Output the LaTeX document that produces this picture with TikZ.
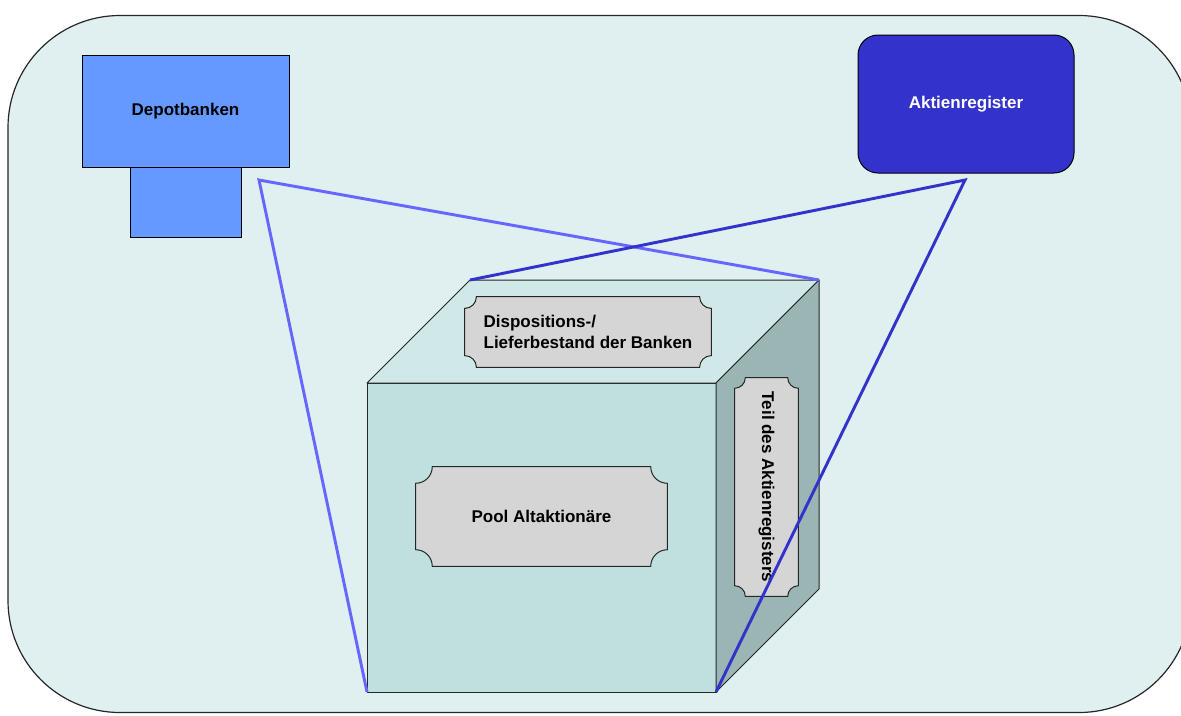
\documentclass[tikz,border=0pt]{standalone}
\usepackage{fontspec}
\setmainfont{Liberation Sans}
\usepackage{graphicx}
\usetikzlibrary{calc}
\pgfdeclarelayer{back}
\pgfdeclarelayer{plaques}
\pgfdeclarelayer{front}
\pgfsetlayers{back,plaques,main,front}
\definecolor{framefill}{RGB}{224,240,240}
\definecolor{depotblue}{RGB}{102,153,255}
\definecolor{aktienblue}{RGB}{51,51,204}
\definecolor{frontface}{RGB}{192,224,224}
\definecolor{topface}{RGB}{208,232,232}
\definecolor{sideface}{RGB}{154,182,180}
\definecolor{plaquegray}{RGB}{213,213,213}
\definecolor{lightline}{RGB}{102,102,255}
\definecolor{darkline}{RGB}{51,51,204}
\tikzset{
  lbl/.style={font=\bfseries\fontsize{12.75}{15.75}\selectfont},
  bankbox/.style={draw=black, line width=0.75pt, fill=depotblue, inner sep=0pt},
  regbox/.style={draw=black, line width=0.75pt, fill=aktienblue, rounded corners=15pt, inner sep=0pt, text=white},
  face/.style={draw=black!85, line width=0.75pt, line join=round},
  plaquetext/.style={lbl, inner sep=0pt, draw=none},
  plaqueshape/.style={draw=black!85, line width=0.75pt, fill=plaquegray},
  lightconn/.style={draw=lightline, line width=2.2pt, line join=miter},
  darkconn/.style={draw=darkline, line width=2.2pt, line join=miter}
}
\newcommand\plaquepath[2]{%
  \path[plaqueshape] ($(#1.north west)+(#2,0pt)$) -- ($(#1.north east)+(-#2,0pt)$)
    arc[start angle=180,end angle=270,radius=#2]
    -- ($(#1.south east)+(0pt,#2)$)
    arc[start angle=90,end angle=180,radius=#2]
    -- ($(#1.south west)+(#2,0pt)$)
    arc[start angle=0,end angle=90,radius=#2]
    -- ($(#1.north west)+(0pt,-#2)$)
    arc[start angle=270,end angle=360,radius=#2] -- cycle;}
\begin{document}
\begin{tikzpicture}[x=0.75pt,y=-0.75pt]
\useasboundingbox (0,0) rectangle (1181,715);
% cube corners
\coordinate (A) at (367,383);
\coordinate (B) at (716,383);
\coordinate (C) at (716,692);
\coordinate (D) at (367,692);
\coordinate (E) at (470,280);
\coordinate (F) at (819,280);
\coordinate (G) at (819,589);
\coordinate (dapex) at (259,180);
\coordinate (aapex) at (965,180);
\begin{pgfonlayer}{back}
  \begin{scope}
    \clip (0,0) rectangle (1181,715);
    \draw[fill=framefill, draw=black!85, line width=0.9pt, rounded corners=84pt] (8,15.5) rectangle (1191,712.5);
  \end{scope}
  \node[bankbox, minimum width=83.25pt, minimum height=52.9pt] (depotfoot) at (185.5,202.35) {};
  \node[bankbox, lbl, minimum width=155.25pt, minimum height=84pt] (depot) at (185.5,111) {Depotbanken};
  \node[regbox, lbl, minimum width=162pt, minimum height=103.5pt] (register) at (966,104) {Aktienregister};
  \filldraw[face, fill=frontface] (A) -- (B) -- (C) -- (D) -- cycle;
  \filldraw[face, fill=topface] (A) -- (E) -- (F) -- (B) -- cycle;
  \filldraw[face, fill=sideface] (B) -- (F) -- (G) -- (C) -- cycle;
\end{pgfonlayer}
\node[plaquetext, minimum width=184.5pt, minimum height=52.5pt, align=left] (disp) at (588,332) {Dispositions-/\\Lieferbestand der Banken};
\node[plaquetext, minimum width=188.25pt, minimum height=74.25pt] (pool) at (541.5,516.5) {Pool Altaktionäre};
\node[plaquetext, minimum width=47.25pt, minimum height=163.5pt] (teil) at (766.5,487) {\rotatebox{-90}{Teil des Aktienregisters}};
\begin{pgfonlayer}{plaques}
  \plaquepath{disp}{8.75pt}
  \plaquepath{pool}{12.4pt}
  \plaquepath{teil}{7.9pt}
\end{pgfonlayer}
\begin{pgfonlayer}{front}
  \draw[lightconn] (D) -- (dapex) -- (F);
  \draw[darkconn] (E) -- (aapex) -- (C);
\end{pgfonlayer}
\end{tikzpicture}
\end{document}
